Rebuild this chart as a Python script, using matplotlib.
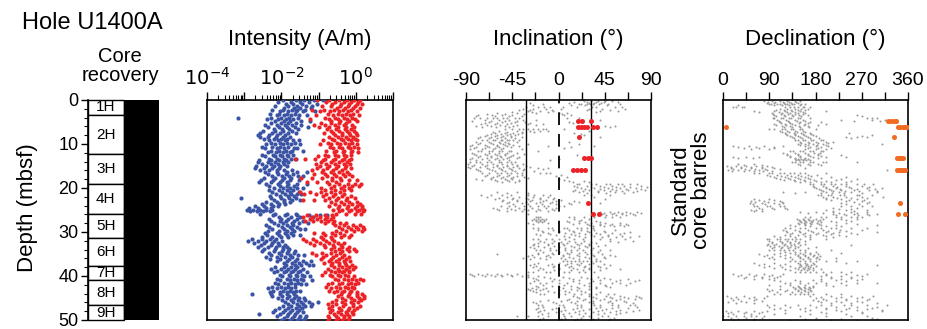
import matplotlib
matplotlib.use("Agg")
import matplotlib.pyplot as plt
from matplotlib.patches import Rectangle
from matplotlib.ticker import FixedLocator, NullFormatter, FixedFormatter

plt.rcParams['font.family'] = ['Liberation Sans', 'DejaVu Sans']
plt.rcParams['axes.unicode_minus'] = False

# ---------------- data ----------------
core_names = ["1H", "2H", "3H", "4H", "5H", "6H", "7H", "8H", "9H"]
core_tops = [0.0, 3.4, 12.3, 19.0, 25.8, 31.4, 37.7, 40.9, 46.7]
core_bottoms = [3.4, 12.3, 19.0, 25.8, 31.4, 37.7, 40.9, 46.7, 50.5]

# intensity, log10(A/m): (depth, [values])
blue_rows = [
    (0.1, [-1.95, -1.62, -1.38, -1.12, -0.88]), (0.5, [-2.08, -1.74, -1.51, -1.27]),
    (0.9, [-1.88, -1.69, -1.44, -1.03]), (1.3, [-2.17, -1.81, -1.57, -1.33, -1.18]),
    (1.8, [-1.92, -1.66, -1.49, -1.21]), (2.2, [-2.24, -1.97, -1.72, -1.58, -1.36]),
    (2.6, [-2.03, -1.83, -1.61, -1.42, -1.09]), (3.1, [-2.31, -2.06, -1.86, -1.64]),
    (3.5, [-2.12, -1.93, -1.74, -1.52, -1.31]), (4.0, [-3.18, -2.27, -2.01, -1.79, -1.55]),
    (4.4, [-2.38, -2.09, -1.88, -1.69]), (4.8, [-2.16, -1.94, -1.77, -1.46, -1.22]),
    (5.3, [-2.29, -2.02, -1.83, -1.61]), (5.7, [-2.44, -2.13, -1.91, -1.72, -1.48]),
    (6.2, [-2.36, -2.07, -1.85, -1.63, -1.28]), (6.6, [-2.21, -1.98, -1.79, -1.56]),
    (7.0, [-2.49, -2.18, -1.96, -1.71]), (7.5, [-2.57, -2.26, -2.04, -1.82, -1.62]),
    (7.9, [-2.62, -2.33, -2.11, -1.89]), (8.3, [-2.58, -2.37, -2.15, -1.97, -1.76]),
    (8.8, [-2.46, -2.19, -2.02, -1.84]), (9.2, [-2.34, -2.09, -1.91, -1.68, -1.52]),
    (9.7, [-2.27, -2.05, -1.86, -1.63]), (10.1, [-2.41, -2.16, -1.97, -1.74, -1.49]),
    (10.6, [-2.53, -2.24, -2.03, -1.81]), (11.0, [-2.44, -2.12, -1.93, -1.66, -1.58]),
    (11.5, [-2.29, -2.06, -1.87, -1.71, -1.42]), (11.9, [-2.36, -2.14, -1.95, -1.78]),
    (12.4, [-2.51, -2.23, -2.04, -1.86, -1.69]), (12.8, [-2.43, -2.18, -1.99, -1.82]),
    (13.3, [-2.34, -2.11, -1.92, -1.73, -1.61]), (13.7, [-2.59, -2.28, -2.07, -1.88]),
    (14.2, [-2.64, -2.36, -2.16, -1.97, -1.83]), (14.6, [-2.52, -2.27, -2.09, -1.94]),
    (15.1, [-2.68, -2.41, -2.21, -2.03, -1.86]), (15.5, [-2.71, -2.46, -2.24, -2.06]),
    (16.0, [-2.57, -2.32, -2.12, -1.93, -1.72]), (16.4, [-2.43, -2.11, -1.84, -1.59, -1.31]),
    (16.9, [-2.36, -2.08, -1.87, -1.68]), (17.3, [-2.24, -1.99, -1.79, -1.56, -1.41]),
    (17.8, [-2.47, -2.17, -1.93, -1.74]), (18.2, [-2.55, -2.23, -1.98, -1.77, -1.52]),
    (18.7, [-2.61, -2.29, -2.04, -1.86]), (19.1, [-2.42, -2.09, -1.81, -1.58, -1.32]),
    (19.6, [-2.33, -2.03, -1.84, -1.67]), (20.0, [-2.21, -1.96, -1.76, -1.57, -1.43]),
    (20.5, [-2.34, -2.07, -1.86, -1.69]), (20.9, [-2.26, -1.98, -1.77, -1.53]),
    (21.4, [-2.14, -1.91, -1.73, -1.58, -1.46]), (21.8, [-2.31, -2.04, -1.83, -1.66]),
    (22.3, [-3.08, -2.27, -2.01, -1.79, -1.61]), (22.7, [-2.19, -1.94, -1.72, -1.49]),
    (23.2, [-2.41, -2.13, -1.92, -1.76]), (23.6, [-2.53, -2.27, -2.06, -1.89]),
    (24.1, [-2.71, -2.46, -2.23, -2.08]), (24.5, [-2.88, -2.63, -2.42, -2.27]),
    (24.9, [-2.93, -2.76, -2.58, -2.41, -2.24]), (25.3, [-2.84, -2.66, -2.49, -2.31]),
    (25.8, [-2.57, -2.18, -1.86, -1.62]), (26.2, [-2.23, -1.91, -1.58, -1.27, -0.96, -0.78]),
    (26.6, [-2.06, -1.74, -1.49, -1.14]), (27.1, [-2.32, -2.02, -1.81, -1.59]),
    (27.5, [-2.28, -2.04, -1.87, -1.66, -1.43]), (28.0, [-2.19, -1.96, -1.72, -1.54, -1.29]),
    (28.4, [-2.41, -2.08, -1.85, -1.68]), (28.9, [-2.33, -1.99, -1.78, -1.57]),
    (29.3, [-2.24, -1.92, -1.71, -1.49, -1.36]), (29.8, [-2.36, -2.07, -1.84, -1.66]),
    (30.2, [-2.44, -2.13, -1.91, -1.74]), (30.7, [-2.38, -2.06, -1.86, -1.68, -1.51]),
    (31.1, [-2.51, -2.24, -2.01, -1.82]), (31.6, [-2.79, -2.52, -2.31, -2.14]),
    (32.0, [-2.91, -2.64, -2.41, -2.21, -1.98]), (32.5, [-2.74, -2.47, -2.26, -2.09]),
    (32.9, [-2.56, -2.29, -2.07, -1.91]), (33.4, [-2.63, -2.36, -2.14, -1.97, -1.84]),
    (33.8, [-2.46, -2.18, -1.97, -1.79]), (34.3, [-2.52, -2.21, -1.99, -1.82, -1.63]),
    (34.7, [-2.34, -2.06, -1.86, -1.66]), (35.2, [-2.27, -2.01, -1.78, -1.56, -1.38]),
    (35.6, [-2.42, -2.12, -1.89, -1.71]), (36.1, [-2.31, -2.03, -1.79, -1.58]),
    (36.5, [-2.13, -1.86, -1.64, -1.43, -1.21]), (37.0, [-1.94, -1.72, -1.54, -1.33]),
    (37.4, [-1.87, -1.64, -1.46, -1.27, -1.16]), (37.9, [-2.18, -1.93, -1.73, -1.57]),
    (38.3, [-2.29, -2.02, -1.81, -1.63, -1.41]), (38.8, [-2.13, -1.88, -1.69, -1.51]),
    (39.2, [-2.21, -1.94, -1.74, -1.56, -1.32]), (39.7, [-2.04, -1.79, -1.61, -1.44]),
    (40.1, [-1.98, -1.76, -1.57, -1.39, -1.24]), (40.6, [-2.11, -1.86, -1.66, -1.48]),
    (41.0, [-2.03, -1.78, -1.58, -1.41, -1.19]), (41.5, [-2.17, -1.92, -1.73, -1.56]),
    (41.9, [-2.08, -1.83, -1.64, -1.47, -1.34]), (42.4, [-2.26, -2.01, -1.81, -1.64]),
    (42.8, [-2.37, -2.11, -1.91, -1.74]), (43.3, [-2.22, -1.97, -1.78, -1.62, -1.51]),
    (43.7, [-2.31, -2.04, -1.86, -1.69]), (44.2, [-2.78, -2.29, -2.03, -1.84, -1.66]),
    (44.6, [-2.24, -1.99, -1.79, -1.61]), (45.1, [-2.09, -1.86, -1.67, -1.52, -1.39]),
    (45.5, [-1.98, -1.74, -1.56, -1.37]), (46.0, [-1.91, -1.68, -1.47, -1.26, -1.02]),
    (46.4, [-1.83, -1.59, -1.41, -1.19]), (46.9, [-1.96, -1.73, -1.53, -1.36, -1.21]),
    (47.3, [-2.07, -1.82, -1.62, -1.44]), (47.8, [-2.16, -1.91, -1.71, -1.54]),
    (48.2, [-2.23, -1.97, -1.76, -1.58, -1.42]), (48.7, [-2.61, -2.04, -1.81, -1.63]),
    (49.1, [-2.12, -1.86, -1.66, -1.49, -1.33]), (49.6, [-1.93, -1.71, -1.54, -1.37]),
    (50.0, [-2.02, -1.78, -1.59, -1.43]),
]
red_rows = [
    (0.1, [-1.04, -0.72, -0.46, -0.23, -0.04, 0.12]), (0.5, [-0.81, -0.55, -0.31, -0.12, 0.06]),
    (0.9, [-0.63, -0.41, -0.19, 0.02, 0.17]), (1.3, [-0.92, -0.67, -0.43, -0.21, -0.03]),
    (1.8, [-0.51, -0.29, -0.08, 0.11]), (2.2, [-1.17, -0.86, -0.58, -0.34, -0.14]),
    (2.6, [-0.97, -0.69, -0.44, -0.22, 0.04]), (3.1, [-0.74, -0.49, -0.26, -0.07]),
    (3.5, [-1.08, -0.62, -0.37, -0.15, 0.08]), (4.0, [-0.83, -0.56, -0.33, -0.11]),
    (4.4, [-1.22, -0.71, -0.47, -0.24, -0.02]), (4.8, [-0.66, -0.42, -0.18, 0.03]),
    (5.3, [-0.94, -0.68, -0.45, -0.26]), (5.7, [-1.12, -0.84, -0.57, -0.31, -0.09]),
    (6.2, [-0.98, -0.73, -0.49, -0.27, -0.06]), (6.6, [-0.77, -0.52, -0.29, -0.12]),
    (7.0, [-0.68, -0.46, -0.23, -0.04]), (7.5, [-0.86, -0.61, -0.38, -0.17, 0.01]),
    (7.9, [-0.57, -0.36, -0.16, 0.04]), (8.3, [-0.72, -0.48, -0.27, -0.08]),
    (8.8, [-0.63, -0.41, -0.21, -0.03]), (9.2, [-0.88, -0.59, -0.35, -0.14, 0.02]),
    (9.7, [-0.74, -0.51, -0.28, -0.09]), (10.1, [-0.96, -0.66, -0.42, -0.19, 0.03]),
    (10.6, [-0.69, -0.44, -0.22, -0.05]), (11.0, [-0.61, -0.37, -0.16, 0.05]),
    (11.5, [-0.79, -0.53, -0.31, -0.11]), (11.9, [-0.58, -0.34, -0.13, 0.06]),
    (12.4, [-0.84, -0.57, -0.33, -0.14]), (12.8, [-1.02, -0.74, -0.48, -0.26]),
    (13.3, [-1.64, -1.36, -1.09, -0.82, -0.56, -0.31, -0.14]), (13.7, [-0.87, -0.61, -0.38, -0.19]),
    (14.2, [-0.93, -0.67, -0.44, -0.24]), (14.6, [-1.08, -0.81, -0.56, -0.33, -0.16]),
    (15.1, [-0.97, -0.71, -0.47, -0.26]), (15.5, [-1.04, -0.77, -0.52, -0.29, -0.12]),
    (16.0, [-1.19, -0.88, -0.61, -0.37]), (16.4, [-0.92, -0.67, -0.44, -0.23]),
    (16.9, [-1.13, -0.84, -0.58, -0.34, -0.17]), (17.3, [-0.78, -0.52, -0.29, -0.09]),
    (17.8, [-1.47, -1.18, -0.91, -0.64, -0.42]), (18.2, [-0.63, -0.39, -0.17, 0.04]),
    (18.7, [-1.32, -1.04, -0.77, -0.52]), (19.1, [-0.71, -0.46, -0.22, -0.01, 0.13]),
    (19.6, [-0.58, -0.33, -0.11, 0.08]), (20.0, [-0.94, -0.67, -0.41, -0.18]),
    (20.5, [-0.83, -0.56, -0.31, -0.12]), (20.9, [-1.51, -1.22, -0.94, -0.66, -0.43]),
    (21.4, [-1.38, -1.08, -0.81, -0.56, -0.33]), (21.8, [-0.89, -0.61, -0.36, -0.14]),
    (22.3, [-0.72, -0.47, -0.24, -0.03]), (22.7, [-1.43, -1.12, -0.83, -0.52, -0.27]),
    (23.2, [-0.66, -0.41, -0.19, 0.02]), (23.6, [-0.57, -0.32, -0.09, 0.11]),
    (24.1, [-0.73, -0.46, -0.21, 0.04, 0.18]), (24.5, [-0.49, -0.24, -0.02, 0.16]),
    (24.9, [-0.62, -0.37, -0.12, 0.09, 0.21]), (25.3, [-0.44, -0.19, 0.04, 0.19]),
    (25.8, [-0.53, -0.27, -0.03, 0.14]), (26.2, [-1.31, -1.06, -0.84, -0.63]),
    (26.6, [-1.42, -1.18, -0.96, -0.77, -0.61]), (27.1, [-1.24, -1.03, -0.84, -0.68]),
    (27.5, [-1.36, -1.14, -0.93, -0.74, -0.58]), (28.0, [-0.83, -0.62, -0.43, -0.26]),
    (28.4, [-0.56, -0.31, -0.08, 0.12]), (28.9, [-0.44, -0.21, 0.01, 0.19]),
    (29.3, [-0.36, -0.13, 0.07, 0.21]), (29.8, [-0.52, -0.26, -0.04, 0.16]),
    (30.2, [-1.13, -0.88, -0.64, -0.42]), (30.7, [-0.84, -0.57, -0.33, -0.12]),
    (31.1, [-0.93, -0.66, -0.41, -0.19]), (31.6, [-1.41, -1.14, -0.87, -0.63]),
    (32.0, [-1.33, -1.06, -0.81, -0.58]), (32.5, [-1.24, -0.97, -0.72, -0.49, -0.33]),
    (32.9, [-1.12, -0.86, -0.62, -0.41]), (33.4, [-0.83, -0.58, -0.37, -0.19]),
    (33.8, [-0.66, -0.44, -0.24, -0.06]), (34.3, [-0.57, -0.36, -0.17, 0.01]),
    (34.7, [-1.18, -0.91, -0.66, -0.43]), (35.2, [-1.06, -0.79, -0.54, -0.32]),
    (35.6, [-0.87, -0.61, -0.38, -0.18]), (36.1, [-0.94, -0.68, -0.46, -0.27]),
    (36.5, [-0.73, -0.52, -0.33, -0.16]), (37.0, [-0.86, -0.64, -0.44, -0.28]),
    (37.4, [-0.67, -0.46, -0.27, -0.11]), (37.9, [-0.58, -0.37, -0.18, -0.02]),
    (38.3, [-0.74, -0.49, -0.26, -0.08]), (38.8, [-0.66, -0.44, -0.31, -0.17]),
    (39.2, [-0.83, -0.57, -0.36, -0.19]), (39.7, [-0.91, -0.69, -0.47, -0.28]),
    (40.1, [-0.64, -0.42, -0.21, -0.04]), (40.6, [-0.56, -0.31, -0.09, 0.11]),
    (41.0, [-0.47, -0.22, 0.01, 0.19]), (41.5, [-0.63, -0.38, -0.14, 0.06]),
    (41.9, [-0.74, -0.46, -0.21, -0.02]), (42.4, [-0.81, -0.54, -0.29, -0.09]),
    (42.8, [-0.66, -0.43, -0.22, -0.06]), (43.3, [-0.72, -0.51, -0.31, -0.14]),
    (43.7, [-0.58, -0.36, -0.16, 0.02]), (44.2, [-0.39, -0.17, 0.04, 0.18]),
    (44.6, [-0.47, -0.21, 0.02, 0.21]), (45.1, [-0.36, -0.12, 0.08, 0.22]),
    (45.5, [-0.54, -0.28, -0.04, 0.14]), (46.0, [-0.63, -0.37, -0.14, 0.06]),
    (46.4, [-0.76, -0.52, -0.28, -0.07]), (46.9, [-0.63, -0.34, -0.08, 0.12]),
    (47.3, [-0.71, -0.44, -0.19, 0.02]), (47.8, [-0.64, -0.41, -0.21, -0.06]),
    (48.2, [-0.69, -0.47, -0.27, -0.11]), (48.7, [-0.58, -0.39, -0.23, -0.08]),
    (49.1, [-0.76, -0.52, -0.33, -0.17]), (49.6, [-0.71, -0.49, -0.31, -0.18]),
    (50.0, [-0.74, -0.53, -0.36, -0.22]),
]

# inclination (degrees)
inc_rows = [
    (0.2, [25, 32, 38, 45, 52]), (0.6, [-28, 10, 30, 35, 41]), (1.0, [22, 28, 34, 48, 60]),
    (1.5, [-20, -8, 18, 36, 55]), (2.0, [-35, -25, -12, 2, 30, 42, 65]), (2.5, [-30, -18, -5, 40, 58]),
    (3.0, [-60, -40, -22, 0, 8]), (3.5, [-78, -65, -55, -45, 5, 12]), (4.0, [-82, -70, -60, -50, -38, 8]),
    (4.5, [-72, -58, -48, -35, -22, 40]), (5.0, [-68, -55, -42, -33, 10]), (5.5, [-75, -62, -50, -30, -15]),
    (6.0, [-80, -66, -52, -44, 45, 55]), (6.5, [-45, -35, -25, -15, 5]), (7.0, [-58, -40, -28, -18, -10, 30]),
    (7.5, [-62, -52, -44, -36, 15]), (8.0, [-70, -60, -50, -42, 25]), (8.5, [-76, -66, -56, -46, -36, 40]),
    (9.0, [-74, -64, -56, -50, -44]), (9.5, [-80, -68, -58, -52, -40, 10]), (10.0, [-78, -64, -54, -48, -30, 20]),
    (10.5, [-86, -70, -60, -50, -38, -10, 35]), (11.0, [-82, -72, -62, -54, 5]), (11.5, [-75, -65, -55, -46, -20]),
    (12.0, [-84, -68, -58, -50, -40]), (12.5, [-80, -70, -60, -52, -44, 18]), (13.0, [-78, -66, -56, -48, -38]),
    (13.5, [-86, -74, -62, -54, 0]), (14.0, [-80, -70, -58, -50, -42]), (14.5, [-88, -74, -64, -55, -45, -35]),
    (15.0, [-84, -72, -60, -50, -40, -32]), (15.5, [-86, -70, -58, -48, -38, -20, -10]),
    (16.0, [-78, -65, -55, -45, -35]), (16.5, [-74, -60, -50, -40, -18, -8]), (17.0, [-70, -58, -48, -36, 2]),
    (17.5, [-64, -54, -44, -34, 8]), (18.0, [-80, -66, -52, -45, 0]), (18.5, [-60, -48, -38, 10, 25]),
    (19.0, [18, 32, 46, 58, 70]), (19.5, [15, 28, 40, 52, 64, 80]), (20.0, [22, 35, 48, 60, 75]),
    (20.5, [16, 30, 44, 56, 68, 84]), (21.0, [-60, -40, 20, 38, 55, 72]), (21.5, [-75, -55, -30, -15, 25, 50]),
    (22.0, [-70, -50, -38, -25, -10, 35]), (22.5, [-62, -45, -30, -18, -5, 45]), (23.0, [-55, -40, -28, -15, -2, 15]),
    (23.5, [-50, -36, -22, -8, 10, 40]), (24.0, [-48, -34, -20, -10, 5]), (24.5, [-64, -50, -38, -26, -12, -2]),
    (25.0, [-58, -42, -30, -18, -4]), (25.5, [40, 50, 58, 66, 76]), (26.0, [-30, 42, 52, 62, 72]),
    (26.5, [-20, 10, 25, 45, 60]), (27.0, [-24, -20, -16, -12, 15, 30]), (27.5, [-22, -18, -14, 8, 20, 36]),
    (28.0, [-30, -10, 20, 32, 45, 60]), (28.5, [30, 40, 50, 60, 68]), (29.0, [-25, -10, 5, 18, 28]),
    (29.5, [-20, -5, 10, 22, 35, 55]), (30.0, [-15, 0, 15, 30, 45, 70]), (30.5, [-22, -8, 12, 26, 40, 60]),
    (31.0, [5, 20, 35, 48, 62, 78]), (31.5, [-25, -12, 0, 15, 40, 65]), (32.0, [-18, -4, 10, 25, 50, 72]),
    (32.5, [-20, -6, 8, 22, 36]), (33.0, [-25, -10, 5, 20, 30, 45]), (33.5, [-28, -14, 0, 15, 28]),
    (34.0, [-22, -8, 6, 18, 32, 50]), (34.5, [-15, 0, 12, 26, 38]), (35.0, [-60, -20, -5, 10, 28, 42]),
    (35.5, [-30, -12, 4, 20, 35, 55]), (36.0, [-35, -18, 2, 14, 30, 45]), (36.5, [8, 16, 24, 32, 40]),
    (37.0, [-20, 0, 12, 22, 34]), (37.5, [-28, -10, 6, 20, 50]), (38.0, [-25, -5, 10, 25, 40]),
    (38.5, [-15, 0, 18, 30, 60]), (39.0, [-30, -12, 5, 20, 35]), (39.5, [-86, -78, -70, -60, -50, -40]),
    (40.0, [-82, -72, -62, -55, -45, -36, -20]), (40.5, [-25, -8, 10, 28, 44]), (41.0, [-20, 0, 20, 40, 60, 78]),
    (41.5, [-28, -12, 8, 30, 52, 70]), (42.0, [-15, 5, 25, 45, 66]), (42.5, [-20, 0, 18, 36, 50]),
    (43.0, [-30, -22, -15, 12, 30]), (43.5, [-25, -10, 6, 22]), (44.0, [-18, 0, 15, 30, 48]),
    (44.5, [14, 30, 46, 60, 75]), (45.0, [20, 36, 52, 68, 80]), (45.5, [-10, 8, 24, 40, 56]),
    (46.0, [-25, -5, 12, 30, 48, 66]), (46.5, [-20, 0, 18, 35, 52, 70]), (47.0, [-15, 5, 22, 40, 58, 76]),
    (47.5, [-22, -6, 14, 30, 46]), (48.0, [-18, 2, 20, 38, 56, 72]), (48.5, [-10, 10, 26, 44, 60]),
    (49.0, [-40, -20, 5, 24, 42]), (49.5, [-15, 6, 22, 38, 54]), (50.0, [-20, 0, 16, 32, 48]),
]
inc_rows_b = [
    (0.4, [15, 28, 36, 44, 58]), (0.8, [-15, 20, 31, 39]), (1.2, [-25, 12, 26, 47]),
    (1.7, [-32, -14, 4, 33, 62]), (2.2, [-38, -28, -6, 28, 50]), (2.7, [-45, -26, -10, 36]),
    (3.2, [-70, -52, -34, 3]), (3.7, [-80, -62, -48, -36]), (4.2, [-76, -64, -54, -42, 20]),
    (4.7, [-84, -66, -52, -40]), (5.2, [-72, -60, -46, -28, 14]), (5.7, [-70, -57, -40, -22]),
    (6.2, [-74, -61, -48, 50]), (6.7, [-52, -38, -30, -20, -12]), (7.2, [-64, -50, -36, -24]),
    (7.7, [-66, -56, -47, -39, 22]), (8.2, [-72, -62, -54, -46]), (8.7, [-78, -68, -60, -52, -42]),
    (9.2, [-70, -62, -55, -48, -38]), (9.7, [-76, -66, -57, -49]), (10.2, [-84, -72, -60, -52, -44]),
    (10.7, [-80, -68, -58, -46, 12]), (11.2, [-86, -74, -64, -56, -36]), (11.7, [-78, -68, -58, -48]),
    (12.2, [-82, -72, -62, -52, -34]), (12.7, [-76, -66, -57, -46]), (13.2, [-84, -70, -60, -50, -40]),
    (13.7, [-80, -68, -58, -48, -8]), (14.2, [-86, -76, -66, -56, -46]), (14.7, [-82, -70, -60, -50, -40]),
    (15.2, [-88, -76, -64, -54, -44, -28]), (15.7, [-80, -68, -56, -46, -34, -15]),
    (16.2, [-76, -62, -52, -42, -24]), (16.7, [-68, -56, -46, -36, -12]), (17.2, [-72, -60, -50, -40, -2]),
    (17.7, [-66, -56, -46, -30]), (18.2, [-74, -62, -50, -38, 5]), (18.7, [-55, -42, 14, 30]),
    (19.2, [20, 36, 50, 62, 76]), (19.7, [18, 32, 44, 56, 70, 86]), (20.2, [26, 40, 52, 66, 80]),
    (20.7, [14, 24, 38, 50, 62, 76]), (21.2, [-50, -30, 28, 46, 64]), (21.7, [-66, -46, -24, -8, 32]),
    (22.2, [-58, -44, -32, -18, -4]), (22.7, [-54, -40, -26, -12, 2]), (23.2, [-48, -32, -18, -6, 20]),
    (23.7, [-44, -30, -16, -2, 12]), (24.2, [-56, -42, -28, -14, 0]), (24.7, [-60, -46, -34, -20, -6]),
    (25.2, [-50, -36, -22, -10]), (25.7, [44, 54, 62, 70, 80]), (26.2, [46, 56, 66, 74]),
    (26.7, [-22, -18, 15, 35, 52]), (27.2, [-26, -22, -18, -14, 22]), (27.7, [-20, -16, 10, 26, 40]),
    (28.2, [-25, 14, 28, 40, 52, 66]), (28.7, [34, 44, 54, 64]), (29.2, [-20, -6, 8, 22, 34]),
    (29.7, [-16, 0, 14, 28, 44]), (30.2, [-10, 6, 20, 36, 52, 64]), (30.7, [-18, -2, 16, 32, 48]),
    (31.2, [10, 26, 42, 56, 70]), (31.7, [-20, -6, 6, 24, 50]), (32.2, [-14, 2, 16, 32, 58]),
    (32.7, [-24, -10, 4, 18, 30]), (33.2, [-20, -4, 12, 26, 38]), (33.7, [-24, -8, 6, 20, 34]),
    (34.2, [-18, -2, 12, 24, 40]), (34.7, [-20, -6, 8, 20, 32]), (35.2, [-26, -10, 4, 18, 34, 50]),
    (35.7, [-24, -8, 10, 26, 44]), (36.2, [-28, -12, 6, 20, 36]), (36.7, [4, 12, 20, 28, 36]),
    (37.2, [-24, -6, 8, 18, 30, 44]), (37.7, [-22, -4, 12, 26, 38]), (38.2, [-18, 0, 14, 30, 46]),
    (38.7, [-20, -4, 12, 24, 40]), (39.2, [-25, -8, 10, 26]), (39.7, [-84, -74, -66, -56, -46, -30]),
    (40.2, [-30, -14, 4, 22, 38]), (40.7, [-22, -4, 14, 32, 50, 68]), (41.2, [-24, -6, 14, 34, 56, 74]),
    (41.7, [-18, 0, 20, 40, 60]), (42.2, [-22, -6, 12, 30, 46]), (42.7, [-26, -12, 4, 20, 36]),
    (43.2, [-28, -18, 0, 18]), (43.7, [-22, -4, 10, 26, 40]), (44.2, [-14, 6, 22, 36, 54]),
    (44.7, [18, 34, 50, 64, 78]), (45.2, [10, 26, 44, 60, 74]), (45.7, [-18, 2, 18, 34, 50, 64]),
    (46.2, [-22, -2, 16, 34, 52, 72]), (46.7, [-16, 4, 22, 40, 58, 74]), (47.2, [-20, -2, 18, 36, 52, 68]),
    (47.7, [-14, 6, 24, 42, 60, 78]), (48.2, [-20, -2, 16, 34, 50, 66]), (48.7, [-16, 4, 20, 38, 56]),
    (49.2, [-30, -10, 12, 30, 48]), (49.7, [-18, 2, 18, 34, 50]),
]
inc_sel_depth = [4.7, 4.7, 4.7, 6.1, 6.1, 6.1, 6.1, 6.1, 6.1, 8.5, 13.2, 13.2, 13.2,
                 15.8, 15.8, 15.8, 15.8, 23.5, 26.0, 26.0]
inc_sel_value = [19, 23, 32, 19, 22, 25, 28, 34, 37, 20, 25, 29, 32,
                 14, 18, 22, 26, 29, 33.5, 39.5]

# declination (degrees)
dec_rows = [
    (0.2, [80, 95, 110, 125, 140, 150]), (0.6, [85, 100, 118, 132, 145]), (1.0, [90, 105, 120, 135, 160]),
    (1.5, [25, 40, 130, 145, 158, 170]), (2.0, [110, 125, 140, 152, 165]), (2.5, [60, 100, 120, 135, 150, 200]),
    (3.0, [95, 115, 130, 145, 160]), (3.5, [100, 118, 134, 148, 165, 260]), (4.0, [97, 112, 128, 145, 170, 280, 300]),
    (4.5, [105, 122, 140, 155, 230, 290, 315]), (5.0, [110, 128, 150, 170, 190]), (5.5, [100, 120, 135, 160, 200]),
    (6.0, [115, 130, 148, 165]), (6.5, [90, 115, 132, 150, 180]), (7.0, [111, 125, 140, 156]),
    (7.5, [120, 138, 152, 170, 245]), (8.0, [125, 140, 158, 175, 290]), (8.5, [135, 150, 165, 240, 260, 280]),
    (9.0, [140, 155, 172, 190]), (9.5, [150, 165, 180, 200, 214]), (10.0, [145, 160, 175, 195, 310]),
    (10.5, [20, 50, 80, 117, 160, 180, 205]), (11.0, [40, 70, 100, 165, 185, 210]), (11.5, [130, 150, 170, 190]),
    (12.0, [117, 140, 160, 178, 189]), (12.5, [125, 145, 165, 185, 230]), (13.0, [20, 45, 70, 130, 150, 175, 200, 240]),
    (13.5, [140, 146, 152, 158, 165]), (14.0, [135, 150, 170, 195, 260]), (14.5, [30, 60, 145, 165, 185]),
    (15.0, [8, 25, 45, 65, 85]), (15.5, [15, 35, 55, 75, 100, 160]), (16.0, [10, 30, 50, 70, 85, 320]),
    (16.5, [60, 90, 110, 130, 150, 200]), (17.0, [85, 105, 125, 145, 165, 182]), (17.5, [100, 120, 140, 160, 210, 240]),
    (18.0, [110, 130, 150, 170, 230, 260]), (18.5, [140, 160, 180, 200, 250]), (19.0, [170, 190, 210, 230, 260, 292]),
    (19.5, [175, 195, 215, 240, 270]), (20.0, [180, 200, 220, 250, 280, 310]), (20.5, [190, 210, 230, 255, 285]),
    (21.0, [117, 160, 200, 225, 250, 300]), (21.5, [185, 205, 228, 260, 290]), (22.0, [195, 215, 240, 270, 311]),
    (22.5, [60, 90, 200, 230, 260]), (23.0, [55, 80, 110, 240, 270]), (23.5, [53, 75, 100, 117, 230, 280]),
    (24.0, [60, 85, 110, 250, 290]), (24.5, [70, 95, 120, 214, 260]), (25.0, [55, 65, 200, 240, 280]),
    (25.5, [150, 180, 214, 250, 280]), (26.0, [214, 235, 255, 280, 300]), (26.5, [160, 190, 220, 250, 270]),
    (27.0, [144, 155, 165, 180, 195, 230, 260]), (27.5, [150, 160, 172, 185, 210, 250]), (28.0, [145, 158, 170, 182, 240]),
    (28.5, [130, 160, 190, 220, 300]), (29.0, [120, 150, 180, 210, 250]), (29.5, [117, 140, 165, 195, 228, 270]),
    (30.0, [125, 150, 175, 200, 225, 300]), (30.5, [130, 155, 180, 210, 260]), (31.0, [100, 130, 160, 200, 240]),
    (31.5, [85, 105, 120, 135, 150, 200]), (32.0, [90, 110, 125, 140, 160]), (32.5, [95, 115, 130, 145]),
    (33.0, [85, 100, 118, 132, 150, 250]), (33.5, [100, 115, 130, 145, 180]), (34.0, [90, 110, 128, 150, 210]),
    (34.5, [120, 140, 160, 180]), (35.0, [70, 100, 140, 155, 170, 185]), (35.5, [80, 110, 145, 160, 175, 189]),
    (36.0, [90, 120, 150, 165, 180, 220]), (36.5, [130, 150, 170, 200, 260]), (37.0, [60, 100, 145, 160, 175, 240]),
    (37.5, [70, 110, 150, 162, 172, 300]), (38.0, [80, 115, 148, 160, 170]), (38.5, [120, 145, 158, 168, 190]),
    (39.0, [140, 160, 180, 210, 250]), (39.5, [20, 50, 80, 117, 200, 240, 280]), (40.0, [30, 60, 90, 110, 190, 230, 270]),
    (40.5, [40, 75, 100, 210, 250]), (41.0, [100, 140, 175, 220, 260]), (41.5, [120, 150, 180, 230, 300]),
    (42.0, [90, 130, 160, 200, 240]), (42.5, [137, 148, 158, 168, 175]), (43.0, [85, 110, 140, 152, 165]),
    (43.5, [90, 120, 145, 160, 172]), (44.0, [100, 130, 150, 165, 200]), (44.5, [8, 40, 85, 170, 210, 250, 292]),
    (45.0, [15, 50, 80, 180, 220, 260]), (45.5, [20, 60, 175, 200, 240, 280]), (46.0, [10, 45, 190, 230, 270]),
    (46.5, [85, 120, 170, 210, 250, 319]), (47.0, [90, 130, 180, 220, 260, 300]), (47.5, [100, 150, 200, 240, 280]),
    (48.0, [5, 30, 60, 85, 160, 230, 310]), (48.5, [10, 40, 70, 120, 200, 270]), (49.0, [0, 25, 55, 80, 150, 250]),
    (49.5, [15, 45, 75, 180, 290]), (50.0, [20, 60, 130, 210, 260]),
]
dec_rows_b = [
    (0.4, [88, 102, 116, 128, 142]), (0.8, [94, 110, 124, 138, 152]), (1.2, [30, 100, 114, 128, 150]),
    (1.7, [20, 36, 120, 138, 155]), (2.2, [104, 118, 132, 146, 160]), (2.7, [70, 108, 124, 140, 156]),
    (3.2, [98, 112, 126, 140, 156]), (3.7, [104, 120, 136, 152, 270]), (4.2, [100, 116, 132, 150, 290]),
    (4.7, [108, 126, 144, 160, 255, 305]), (5.2, [112, 130, 148, 166]), (5.7, [104, 122, 140, 158, 185]),
    (6.2, [118, 134, 150, 168]), (6.7, [100, 120, 136, 154]), (7.2, [114, 128, 144, 160]),
    (7.7, [122, 140, 156, 172]), (8.2, [130, 146, 162, 180, 270]), (8.7, [138, 154, 170, 186, 250]),
    (9.2, [146, 160, 176, 194]), (9.7, [152, 168, 184, 204]), (10.2, [150, 166, 182, 200]),
    (10.7, [30, 65, 100, 170, 190]), (11.2, [55, 90, 160, 180, 200]), (11.7, [136, 156, 176, 194]),
    (12.2, [124, 146, 166, 184]), (12.7, [130, 150, 170, 190]), (13.2, [30, 58, 140, 160, 185]),
    (13.7, [142, 148, 155, 161, 170]), (14.2, [140, 156, 176, 200]), (14.7, [40, 75, 150, 170, 190]),
    (15.2, [15, 35, 55, 75, 95]), (15.7, [20, 42, 62, 82, 110]), (16.2, [18, 40, 60, 78, 95]),
    (16.7, [70, 96, 118, 138, 160]), (17.2, [92, 112, 132, 152, 172]), (17.7, [104, 126, 146, 166, 190]),
    (18.2, [118, 138, 158, 178, 220]), (18.7, [150, 170, 190, 210, 240]), (19.2, [176, 196, 218, 240, 275]),
    (19.7, [178, 200, 222, 245, 285]), (20.2, [186, 206, 228, 260, 295]), (20.7, [195, 215, 238, 265, 300]),
    (21.2, [140, 190, 212, 235, 270]), (21.7, [190, 210, 235, 265]), (22.2, [200, 222, 250, 280]),
    (22.7, [70, 100, 210, 245, 275]), (23.2, [62, 88, 115, 255, 285]), (23.7, [58, 82, 108, 240, 265]),
    (24.2, [66, 92, 118, 230, 270]), (24.7, [75, 100, 125, 225, 250]), (25.2, [60, 75, 215, 255]),
    (25.7, [165, 195, 225, 260]), (26.2, [220, 240, 262, 285]), (26.7, [170, 200, 230, 260]),
    (27.2, [148, 158, 168, 176, 188, 240]), (27.7, [152, 162, 174, 190, 220]), (28.2, [148, 160, 172, 186, 260]),
    (28.7, [140, 170, 200, 230]), (29.2, [130, 160, 190, 220, 280]), (29.7, [122, 148, 172, 205, 240]),
    (30.2, [135, 160, 185, 215, 250]), (30.7, [120, 145, 170, 195, 225]), (31.2, [110, 140, 170, 215]),
    (31.7, [90, 110, 126, 142, 170]), (32.2, [95, 115, 130, 148]), (32.7, [88, 104, 120, 138, 160]),
    (33.2, [92, 108, 124, 140]), (33.7, [96, 112, 126, 140, 165]), (34.2, [100, 118, 136, 160]),
    (34.7, [110, 130, 150, 170, 230]), (35.2, [85, 120, 146, 160, 178]), (35.7, [95, 130, 150, 166, 182]),
    (36.2, [100, 135, 155, 170, 186]), (36.7, [140, 160, 180, 220]), (37.2, [80, 120, 150, 164, 178]),
    (37.7, [90, 130, 152, 166, 180]), (38.2, [100, 140, 155, 165, 175]), (38.7, [130, 152, 164, 176]),
    (39.2, [150, 170, 195, 230]), (39.7, [35, 65, 95, 200, 260]), (40.2, [45, 75, 105, 210, 250]),
    (40.7, [60, 90, 190, 230, 270]), (41.2, [110, 150, 190, 240]), (41.7, [130, 165, 200, 260]),
    (42.2, [110, 145, 175, 215]), (42.7, [140, 150, 160, 170]), (43.2, [95, 125, 146, 158, 170]),
    (43.7, [105, 135, 152, 166]), (44.2, [110, 140, 158, 175, 230]), (44.7, [25, 60, 190, 230, 270]),
    (45.2, [30, 65, 195, 240, 285]), (45.7, [35, 75, 185, 220, 260]), (46.2, [25, 60, 210, 250, 300]),
    (46.7, [100, 145, 190, 235, 280]), (47.2, [110, 160, 200, 245, 290]), (47.7, [120, 170, 220, 260, 310]),
    (48.2, [15, 45, 75, 190, 270]), (48.7, [20, 55, 100, 170, 240]), (49.2, [10, 40, 65, 200, 280]),
    (49.7, [30, 60, 160, 230, 300]),
]
dec_sel_depth = [4.7, 4.7, 4.7, 4.7, 6.2, 6.2, 6.2, 6.2, 6.2, 6.2, 8.5, 13.2, 13.2, 13.2, 13.2,
                 15.8, 15.8, 15.8, 15.8, 15.8, 23.5, 26.0, 26.0]
dec_sel_value = [322, 327, 332, 337, 5, 340, 345, 350, 355, 358, 333, 338, 342, 346, 350,
                 338, 342, 346, 350, 354, 344, 340, 354]

inc_gad = 31.4
depth_ticks = [0, 10, 20, 30, 40, 50]


def flatten(*row_lists):
    d, v = [], []
    for rows in row_lists:
        for depth, vals in rows:
            for val in vals:
                d.append(depth)
                v.append(val)
    return d, v


# ---------------- figure ----------------
W, H = 927, 329
fig = plt.figure(figsize=(W / 100, H / 100), dpi=100)


def ax_at(x0, x1, y0, y1):
    return fig.add_axes([x0 / W, 1 - y1 / H, (x1 - x0) / W, (y1 - y0) / H])


TOP, BOT = 100, 320
BLUE = '#3a53a4'
RED = '#ec2227'
ORANGE = '#f36a21'
GRAY = '#9c9c9c'
LW = 1.2
TICKFS = 14

# core recovery column
axc = ax_at(88, 159, TOP, BOT)
axc.set_xlim(0, 2)
axc.set_ylim(50, 0)
for s in ['top', 'right', 'bottom']:
    axc.spines[s].set_visible(False)
axc.spines['left'].set_linewidth(LW)
axc.set_xticks([])
axc.set_yticks(depth_ticks)
axc.yaxis.set_minor_locator(FixedLocator([d for d in range(0, 51, 2) if d % 10]))
axc.tick_params(axis='y', which='major', length=5, width=1, labelsize=13, pad=2)
axc.tick_params(axis='y', which='minor', length=3, width=0.8)
for name, t, b in zip(core_names, core_tops, core_bottoms):
    bb = min(b, 50)
    axc.add_patch(Rectangle((0, t), 1, bb - t, facecolor='white', edgecolor='black',
                            linewidth=1.0, clip_on=False))
    axc.text(0.5, (t + bb) / 2, name, ha='center', va='center', fontsize=11)
axc.add_patch(Rectangle((1.0, 0), 1.0, 50, facecolor='black', edgecolor='black', linewidth=1.0))

# intensity
axi = ax_at(207, 393, TOP, BOT)
bd, bv = flatten(blue_rows)
rd, rv = flatten(red_rows)
axi.scatter([10 ** v for v in bv], bd, s=9, c=BLUE, linewidths=0, zorder=3)
axi.scatter([10 ** v for v in rv], rd, s=9, c=RED, linewidths=0, zorder=3)
axi.set_xscale('log')
axi.set_xlim(1e-4, 10)
axi.set_ylim(50, 0)
axi.xaxis.set_major_locator(FixedLocator([1e-4, 1e-3, 1e-2, 1e-1, 1e0, 1e1]))
axi.xaxis.set_major_formatter(FixedFormatter(['$10^{-4}$', '', '$10^{-2}$', '', '$10^{0}$', '']))
minors = [m * 10 ** e for e in range(-4, 1) for m in range(2, 10)]
axi.xaxis.set_minor_locator(FixedLocator(minors))
axi.xaxis.set_minor_formatter(NullFormatter())

# inclination
axn = ax_at(466, 651, TOP, BOT)
nd, nv = flatten(inc_rows, inc_rows_b)
axn.scatter(nv, nd, s=2.2, c=GRAY, linewidths=0, zorder=2)
axn.scatter(inc_sel_value, inc_sel_depth, s=13, c=RED, linewidths=0, zorder=4)
axn.axvline(-inc_gad, color='black', lw=1.0, zorder=3)
axn.axvline(inc_gad, color='black', lw=1.0, zorder=3)
axn.axvline(0, color='black', lw=1.3, ls=(0, (7, 5)), zorder=3)
axn.set_xlim(-90, 90)
axn.set_ylim(50, 0)
axn.xaxis.set_major_locator(FixedLocator([-90, -67.5, -45, -22.5, 0, 22.5, 45, 67.5, 90]))
axn.xaxis.set_major_formatter(FixedFormatter(['-90', '', '-45', '', '0', '', '45', '', '90']))

# declination
axd = ax_at(723, 908, TOP, BOT)
dd, dv = flatten(dec_rows, dec_rows_b)
axd.scatter(dv, dd, s=2.2, c=GRAY, linewidths=0, zorder=2)
axd.scatter(dec_sel_value, dec_sel_depth, s=13, c=ORANGE, linewidths=0, zorder=4)
axd.set_xlim(0, 360)
axd.set_ylim(50, 0)
axd.xaxis.set_major_locator(FixedLocator([0, 45, 90, 135, 180, 225, 270, 315, 360]))
axd.xaxis.set_major_formatter(FixedFormatter(['0', '', '90', '', '180', '', '270', '', '360']))

for ax in (axi, axn, axd):
    for s in ax.spines.values():
        s.set_linewidth(LW)
    ax.set_yticks([])
    ax.xaxis.set_ticks_position('top')
    ax.xaxis.set_label_position('top')
    ax.tick_params(axis='x', which='major', length=6, width=1, labelsize=TICKFS, pad=2)
    ax.tick_params(axis='x', which='minor', length=3.5, width=0.8)

# titles and labels
fig.text(22 / W, 1 - 29 / H, 'Hole U1400A', fontsize=17, ha='left', va='baseline')
fig.text(120 / W, 1 - 66 / H, 'Core\nrecovery', fontsize=14.5, ha='center', va='center',
         linespacing=1.05)
fig.text(300 / W, 1 - 39 / H, 'Intensity (A/m)', fontsize=16, ha='center', va='center')
fig.text(558 / W, 1 - 39 / H, 'Inclination (°)', fontsize=16, ha='center', va='center')
fig.text(815 / W, 1 - 39 / H, 'Declination (°)', fontsize=16, ha='center', va='center')
fig.text(27 / W, 1 - 208 / H, 'Depth (mbsf)', fontsize=16, rotation=90, ha='center', va='center')
fig.text(691 / W, 1 - 190 / H, 'Standard\ncore barrels', fontsize=16, rotation=90,
         ha='center', va='center', linespacing=1.0)

fig.savefig('out.png', dpi=100)
